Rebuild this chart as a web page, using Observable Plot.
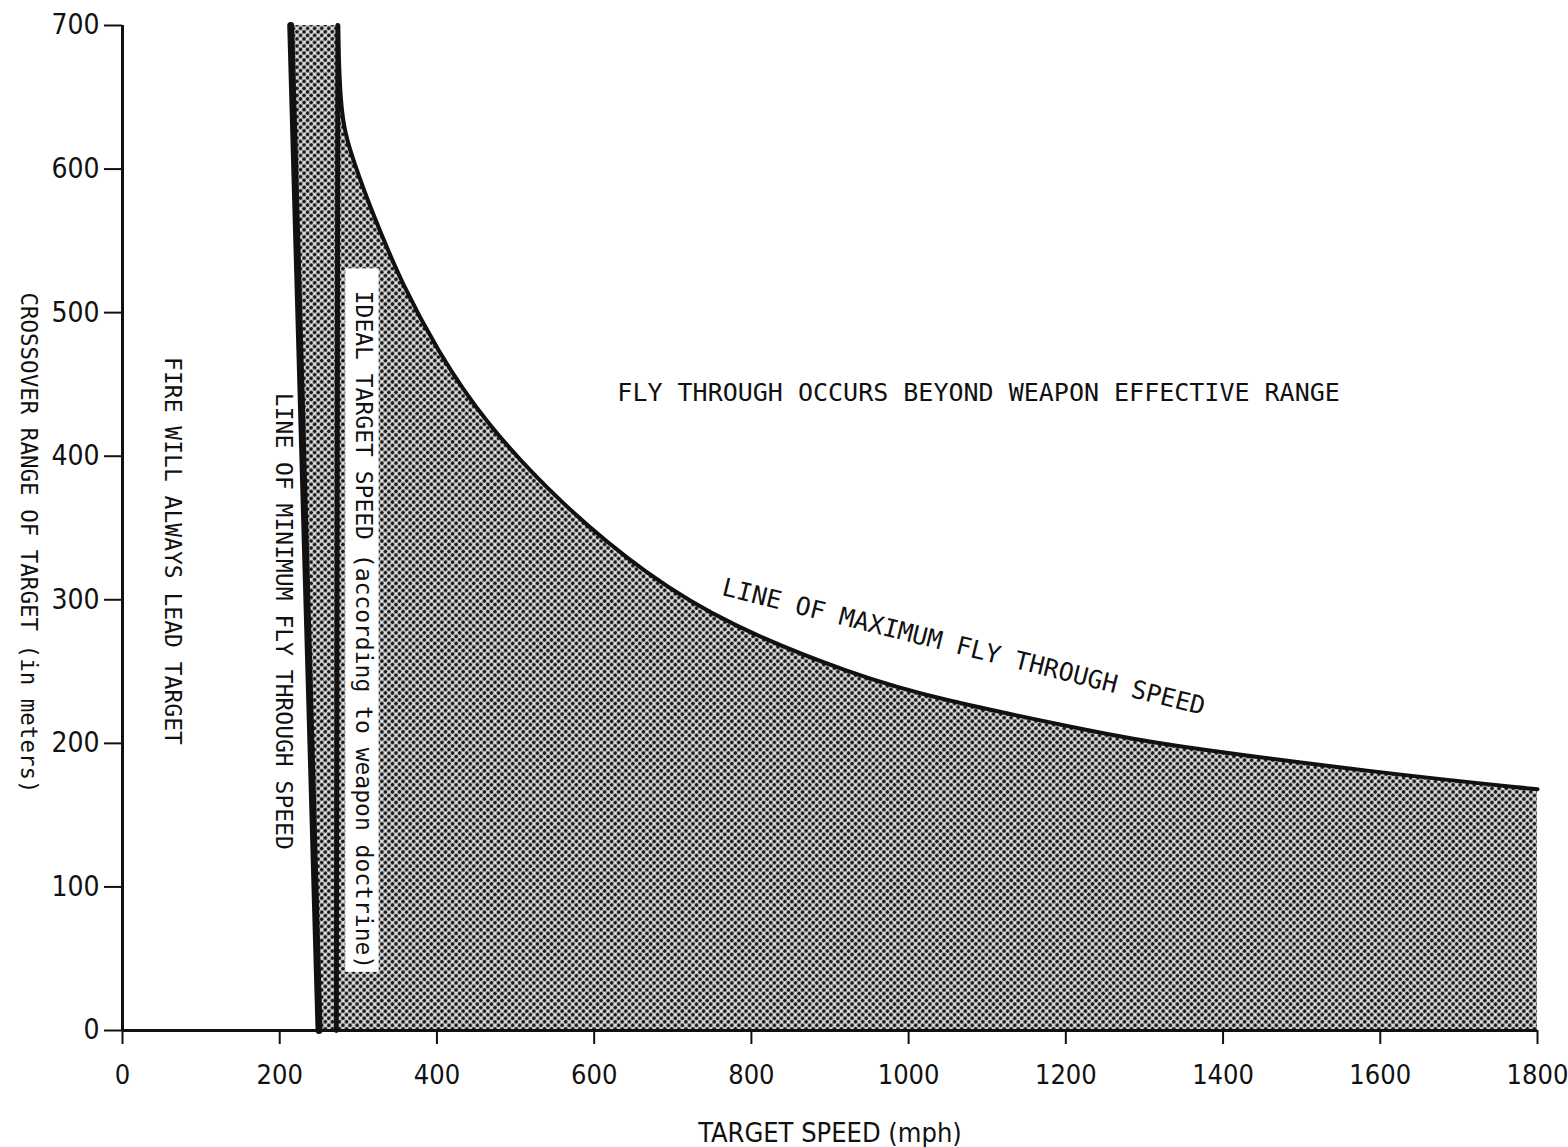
<!DOCTYPE html>
<html><head><meta charset="utf-8">
<script src="https://cdn.jsdelivr.net/npm/d3@7"></script>
<script src="https://cdn.jsdelivr.net/npm/@observablehq/plot@0.6"></script>
<style>body{margin:0;background:#fff}</style>
</head><body><div id="chart"></div>
<script>
// Axis ticks
const xTicks = [0, 200, 400, 600, 800, 1000, 1200, 1400, 1600, 1800];
const yTicks = [0, 100, 200, 300, 400, 500, 600, 700];

// Line of maximum fly through speed (target speed mph, crossover range m)
const maxSpeed = [274, 275, 277, 281, 291, 312, 329, 355, 400, 460, 559, 665, 772, 929, 1034, 1247, 1311, 1605, 1800];
const maxRange = [700, 680, 652, 630, 610, 578, 555, 521, 474, 424, 366, 318, 282, 248, 231, 207, 200, 179, 168];

// Line of minimum fly through speed
const minSpeed = [214, 250];
const minRange = [700, 0];

// Ideal target speed (according to weapon doctrine)
const idealSpeed = [274, 272];
const idealRange = [700, 0];

// Annotations
const labelText = [
  "FLY THROUGH OCCURS BEYOND WEAPON EFFECTIVE RANGE",
  "LINE OF MAXIMUM FLY THROUGH SPEED",
  "FIRE WILL ALWAYS LEAD TARGET",
  "LINE OF MINIMUM FLY THROUGH SPEED",
  "IDEAL TARGET SPEED (according to weapon doctrine)"
];
const labelX = [1089, 1070, 64, 205, 306];
const labelY = [444, 267, 334, 285, 279];
const labelRotate = [0, 14, 90, 90, 90];
const labelSize = [25, 25, 23, 23, 23];

const maxRows = maxSpeed.map((x, i) => ({x, y: maxRange[i]}));
const minRows = minSpeed.map((x, i) => ({x, y: minRange[i]}));
const idealRows = idealSpeed.map((x, i) => ({x, y: idealRange[i]}));
const bandRows = minRange.map((y, i) => ({y, x1: minSpeed[i], x2: idealSpeed[i]}));
const labels = labelText.map((t, i) => ({t, x: labelX[i], y: labelY[i], r: labelRotate[i], s: labelSize[i]}));
const idealBox = [{x1: 284, x2: 326.5, y1: 40.5, y2: 530.5}];

const mono = "'DejaVu Sans Mono', 'Liberation Mono', monospace";
const narrow = "'Liberation Sans Narrow', 'DejaVu Sans Condensed', 'Roboto', sans-serif";

const plot = Plot.plot({
  width: 1568,
  height: 1147,
  marginLeft: 122,
  marginRight: 31,
  marginTop: 25,
  marginBottom: 117,
  style: {fontFamily: narrow, background: "#fff", color: "#111"},
  x: {domain: [0, 1800], ticks: xTicks},
  y: {domain: [0, 700], ticks: yTicks},
  marks: [
    Plot.areaX(bandRows, {y: "y", x1: "x1", x2: "x2", fill: "url(#halftone)"}),
    Plot.areaY(maxRows, {x: "x", y1: 0, y2: "y", curve: "basis", fill: "url(#halftone)"}),
    Plot.rect(idealBox, {x1: "x1", x2: "x2", y1: "y1", y2: "y2", fill: "#fff"}),
    Plot.line(maxRows, {x: "x", y: "y", curve: "basis", stroke: "#111", strokeWidth: 4}),
    Plot.line(minRows, {x: "x", y: "y", stroke: "#111", strokeWidth: 7}),
    Plot.line(idealRows, {x: "x", y: "y", stroke: "#111", strokeWidth: 5}),
    Plot.ruleX([0], {y1: 0, y2: 700, stroke: "#111", strokeWidth: 3}),
    Plot.ruleY([0], {x1: 0, x2: 1800, stroke: "#111", strokeWidth: 3}),
    Plot.axisX({ticks: xTicks, tickSize: 14, tickPadding: 20, fontSize: 27, tickFormat: d => String(d), strokeWidth: 2, label: null}),
    Plot.axisY({ticks: yTicks, tickSize: 18, tickPadding: 5, fontSize: 28, tickFormat: d => String(d), strokeWidth: 2, label: null}),
    Plot.text(["CROSSOVER RANGE OF TARGET (in meters)"], {frameAnchor: "left", textAnchor: "middle", dx: -94, dy: 15, rotate: 90, fontSize: 22.5, fontFamily: mono, fill: "#111"}),
    Plot.text(["TARGET SPEED (mph)"], {frameAnchor: "bottom", dy: 111, fontSize: 27, fill: "#111"}),
    Plot.text(labels, {x: "x", y: "y", text: "t", rotate: (d) => d.r, fontSize: (d) => d.s, fontFamily: mono, fill: "#111"})
  ]
});

// halftone pattern definition
const svg = d3.select(plot.tagName === "svg" ? plot : plot.querySelector("svg"));
const pat = svg.insert("defs", ":first-child").append("pattern")
  .attr("id", "halftone").attr("patternUnits", "userSpaceOnUse")
  .attr("width", 5).attr("height", 5).attr("patternTransform", "rotate(45)");
pat.append("rect").attr("width", 5).attr("height", 5).attr("fill", "#e0e0e0");
pat.append("circle").attr("cx", 2.5).attr("cy", 2.5).attr("r", 1.9).attr("fill", "#1a1a1a");

document.getElementById("chart").appendChild(plot);
</script>
</body></html>
